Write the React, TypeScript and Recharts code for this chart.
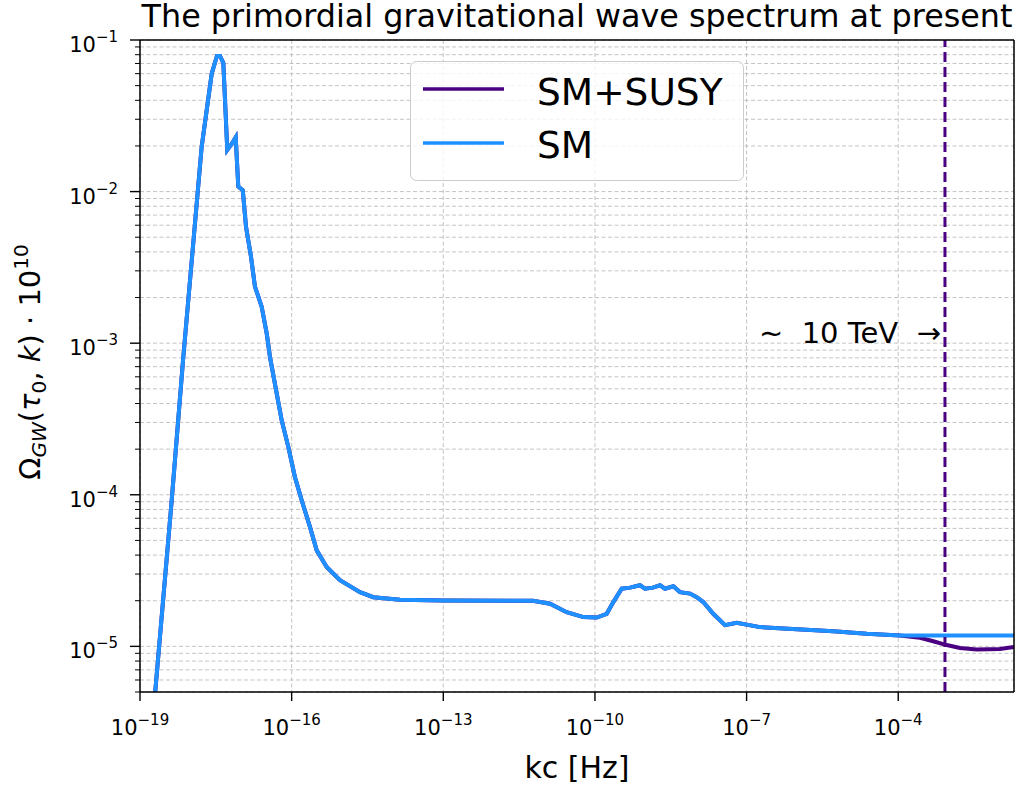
import React from "react";
import { LineChart, Line, XAxis, YAxis, CartesianGrid, ReferenceLine } from "recharts";

// wave number kc [Hz]
const kValues = [
  2.0e-19, 4.24e-19, 7.1e-19, 1.66e-18, 2.62e-18, 3.33e-18, 3.83e-18, 4.45e-18, 5.33e-18, 6.3e-18,
  7.82e-18, 8.8e-18, 1.08e-17, 1.25e-17, 1.57e-17, 1.88e-17, 2.55e-17, 3.21e-17, 3.73e-17, 5.06e-17,
  6.35e-17, 8.59e-17, 1.16e-16, 1.58e-16, 2.31e-16, 3.13e-16, 4.93e-16, 9.04e-16, 2.25e-15, 4.12e-15,
  1.39e-14, 1e-13, 5.94e-12, 1.29e-11, 2.76e-11, 5.89e-11, 1.08e-10, 1.71e-10, 2.31e-10, 3.38e-10,
  4.93e-10, 7.78e-10, 9.77e-10, 1.4e-9, 1.94e-9, 2.43e-9, 3.55e-9, 4.81e-9, 7.59e-9, 1.03e-8,
  1.39e-8, 2.19e-8, 3.74e-8, 6.37e-8, 1.84e-7, 5.32e-7, 5.19e-6, 2.38e-5, 1.08e-4, 2.69e-4,
  4.93e-4, 9.08e-4, 1.67e-3, 3.56e-3, 1.03e-2, 1.95e-2,
];

const smValues = [
  5.0e-6, 9.2e-5, 7.7e-4, 0.0198, 0.06, 0.0784, 0.0784, 0.0705, 0.0188, 0.0203,
  0.0228, 0.0108, 0.0102, 0.00586, 0.00372, 0.00236, 0.00174, 0.00116, 8.1e-4, 4.66e-4,
  3.1e-4, 2.07e-4, 1.31e-4, 9.2e-5, 6.12e-5, 4.3e-5, 3.34e-5, 2.73e-5, 2.28e-5, 2.11e-5,
  2.03e-5, 2.01e-5, 2.0e-5, 1.91e-5, 1.68e-5, 1.56e-5, 1.55e-5, 1.64e-5, 1.96e-5, 2.4e-5,
  2.44e-5, 2.53e-5, 2.4e-5, 2.44e-5, 2.53e-5, 2.4e-5, 2.49e-5, 2.28e-5, 2.23e-5, 2.11e-5,
  1.96e-5, 1.64e-5, 1.38e-5, 1.43e-5, 1.34e-5, 1.31e-5, 1.26e-5, 1.21e-5, 1.18e-5, 1.18e-5,
  1.18e-5, 1.18e-5, 1.18e-5, 1.18e-5, 1.18e-5, 1.18e-5,
];

const susyValues = [
  5.0e-6, 9.2e-5, 7.7e-4, 0.0198, 0.06, 0.0784, 0.0784, 0.0705, 0.0188, 0.0203,
  0.0228, 0.0108, 0.0102, 0.00586, 0.00372, 0.00236, 0.00174, 0.00116, 8.1e-4, 4.66e-4,
  3.1e-4, 2.07e-4, 1.31e-4, 9.2e-5, 6.12e-5, 4.3e-5, 3.34e-5, 2.73e-5, 2.28e-5, 2.11e-5,
  2.03e-5, 2.01e-5, 2.0e-5, 1.91e-5, 1.68e-5, 1.56e-5, 1.55e-5, 1.64e-5, 1.96e-5, 2.4e-5,
  2.44e-5, 2.53e-5, 2.4e-5, 2.44e-5, 2.53e-5, 2.4e-5, 2.49e-5, 2.28e-5, 2.23e-5, 2.11e-5,
  1.96e-5, 1.64e-5, 1.38e-5, 1.43e-5, 1.34e-5, 1.31e-5, 1.26e-5, 1.21e-5, 1.18e-5, 1.14e-5,
  1.08e-5, 1.02e-5, 9.75e-6, 9.55e-6, 9.6e-6, 9.9e-6,
];

const xTicks = [1e-19, 1e-16, 1e-13, 1e-10, 1e-7, 1e-4];
const yDecades = [1e-6, 1e-5, 1e-4, 1e-3, 1e-2];
const yMinorSteps = [2, 3, 4, 5, 6, 7, 8, 9];
const xDomain = [1e-19, 1.95e-2];
const yDomain = [5e-6, 1e-1];
const tevLine = 8.4e-4;

const SUSY_COLOR = "#4B0082";
const SM_COLOR = "#1E90FF";
const FONT = "DejaVu Sans, sans-serif";

const data = kValues.map((k, i) => ({ k, susy: susyValues[i], sm: smValues[i] }));

const yTicks = [
  ...yDecades.flatMap((d) => [d, ...yMinorSteps.map((m) => m * d)]),
  1e-1,
].filter((v) => v >= yDomain[0] * 0.999 && v <= yDomain[1] * 1.001);

const expText = (n: number) => (n < 0 ? "\u2212" + Math.abs(n) : String(n));

function XTick({ x, y, payload }: any) {
  const e = Math.round(Math.log10(payload.value));
  return (
    <g>
      <line x1={x} x2={x} y1={y} y2={y + 9} stroke="#000" strokeWidth={1.4} />
      <text x={x} y={y + 43} textAnchor="middle" fontFamily={FONT} fontSize={21} fill="#000">
        10<tspan dy={-10} fontSize={15}>{expText(e)}</tspan>
      </text>
    </g>
  );
}

function YTick({ x, y, payload }: any) {
  const l = Math.log10(payload.value);
  const major = Math.abs(l - Math.round(l)) < 1e-6;
  return (
    <g>
      <line x1={x} x2={x - (major ? 10 : 5)} y1={y} y2={y} stroke="#000" strokeWidth={major ? 1.4 : 1} />
      {major && (
        <text x={x - 22} y={y + 12} textAnchor="end" fontFamily={FONT} fontSize={21} fill="#000">
          10<tspan dy={-10} fontSize={15}>{expText(Math.round(l))}</tspan>
        </text>
      )}
    </g>
  );
}

function TevLabel({ viewBox }: any) {
  return (
    <text
      x={viewBox.x - 4}
      y={343}
      textAnchor="end"
      fontFamily={FONT}
      fontSize={29}
      fill="#000"
      style={{ whiteSpace: "pre" }}
    >
      {"\u223C  10 TeV  \u2192"}
    </text>
  );
}

export default function App() {
  return (
    <div style={{ position: "absolute", left: 0, top: 0, width: 1024, height: 790, background: "#fff" }}>
      <LineChart width={1024} height={790} data={data} margin={{ top: 40, right: 10, bottom: 38, left: 60 }}>
        <CartesianGrid stroke="#b5b5b5" strokeDasharray="4 2.5" strokeWidth={0.8} />
        <XAxis
          dataKey="k"
          type="number"
          scale="log"
          domain={xDomain}
          allowDataOverflow
          ticks={xTicks}
          interval={0}
          height={60}
          tickSize={0}
          tickMargin={0}
          tickLine={false}
          tick={<XTick />}
          axisLine={{ stroke: "#000", strokeWidth: 1.5 }}
        />
        <YAxis
          type="number"
          scale="log"
          domain={yDomain}
          allowDataOverflow
          ticks={yTicks}
          interval={0}
          width={80}
          tickSize={0}
          tickMargin={0}
          tickLine={false}
          tick={<YTick />}
          axisLine={{ stroke: "#000", strokeWidth: 1.5 }}
        />
        <Line type="linear" dataKey="susy" name="SM+SUSY" stroke={SUSY_COLOR} strokeWidth={4} dot={false} activeDot={false} isAnimationActive={false} />
        <Line type="linear" dataKey="sm" name="SM" stroke={SM_COLOR} strokeWidth={4} dot={false} activeDot={false} isAnimationActive={false} />
        <ReferenceLine x={tevLine} stroke={SUSY_COLOR} strokeWidth={3} strokeDasharray="10 5" label={<TevLabel />} />
        <ReferenceLine y={yDomain[1]} stroke="#000" strokeWidth={1.5} />
        <ReferenceLine x={xDomain[1]} stroke="#000" strokeWidth={1.5} />
      </LineChart>

      <svg width={1024} height={790} style={{ position: "absolute", left: 0, top: 0, pointerEvents: "none" }}>
        <text x={577} y={27} textAnchor="middle" fontFamily={FONT} fontSize={31.8} fill="#000">
          The primordial gravitational wave spectrum at present
        </text>
        <text x={577} y={778} textAnchor="middle" fontFamily={FONT} fontSize={30} fill="#000">
          kc [Hz]
        </text>
        <text transform="translate(40,362) rotate(-90)" textAnchor="middle" fontFamily={FONT} fontSize={29} fill="#000">
          Ω<tspan fontSize={20} fontStyle="italic" dy={6}>GW</tspan>
          <tspan dy={-6}>(</tspan>
          <tspan fontStyle="italic">τ</tspan>
          <tspan fontSize={20} dy={6}>0</tspan>
          <tspan dy={-6}>, </tspan>
          <tspan fontStyle="italic">k</tspan>
          <tspan>) · 10</tspan>
          <tspan fontSize={20} dy={-12}>10</tspan>
        </text>

        <rect x={410.5} y={61.5} width={333} height={119} rx={6} fill="rgba(255,255,255,0.8)" stroke="#cccccc" />
        <line x1={423} x2={504} y1={89} y2={89} stroke={SUSY_COLOR} strokeWidth={3.5} />
        <text x={537} y={105} fontFamily={FONT} fontSize={37.5} fill="#000">SM+SUSY</text>
        <line x1={423} x2={504} y1={143} y2={143} stroke={SM_COLOR} strokeWidth={3.5} />
        <text x={537} y={158} fontFamily={FONT} fontSize={37.5} fill="#000">SM</text>
      </svg>
    </div>
  );
}
